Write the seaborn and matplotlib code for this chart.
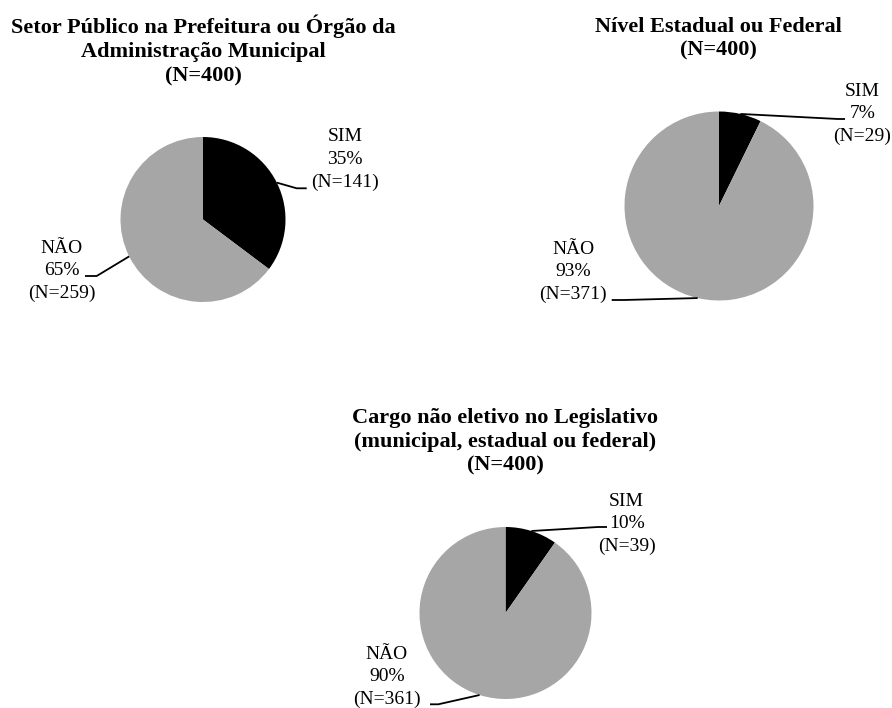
import matplotlib
matplotlib.use("Agg")
import numpy as np
import matplotlib.pyplot as plt
import seaborn as sns

# Survey results: worked in the public sector (N=400 per question)
titles = [
    "Setor Público na Prefeitura ou Órgão da\nAdministração Municipal\n(N=400)",
    "Nível Estadual ou Federal\n(N=400)",
    "Cargo não eletivo no Legislativo\n(municipal, estadual ou federal)\n(N=400)",
]
categories = ["SIM", "NÃO"]
sim_counts = [141, 29, 39]
nao_counts = [259, 371, 361]
total_n = 400

sns.set_theme(style="white")
plt.rcParams["font.family"] = ["Liberation Serif", "DejaVu Serif"]

colors = ["#000000", "#a6a6a6"]

W, H = 892, 708
fig = plt.figure(figsize=(W / 100, H / 100), dpi=100)
fig.patch.set_facecolor("white")

# pixel layout: pie centre x, centre y (from top), radius
pie_geom = [(203, 219.5, 82.5), (719, 206, 94.5), (505.5, 613, 86)]
title_pos = [(203, 50.5), (718, 38.5), (505, 441.5)]
# label block centres (SIM, NÃO)
label_pos = [((345, 159.5), (61.7, 271)),
             ((862.5, 114), (573.3, 272)),
             ((626.7, 524), (386.7, 677)) ]
# leader line elbow and end points (SIM, NÃO)
leaders = [(((296.7, 188.3), (306.7, 188.3)), ((96.7, 276), (85, 276))),
           (((838, 119), (845, 119)), ((624, 300), (611.7, 300))),
           (((598, 527), (607, 527)), ((438.3, 704.3), (430, 704.3)))]

label_fs = 14
title_fs = 16

for i in range(3):
    cx, cy, r = pie_geom[i]
    ax = fig.add_axes([(cx - r) / W, 1 - (cy + r) / H, 2 * r / W, 2 * r / H])
    values = [sim_counts[i], nao_counts[i]]
    wedges, _ = ax.pie(values, colors=colors, startangle=90, counterclock=False,
                       radius=1, wedgeprops=dict(linewidth=0))
    ax.set_xlim(-1, 1)
    ax.set_ylim(-1, 1)
    ax.set_aspect("equal")
    ax.axis("off")

    def to_data(p):
        return ((p[0] - cx) / r, (cy - p[1]) / r)

    for j, w in enumerate(wedges):
        mid = np.deg2rad((w.theta1 + w.theta2) / 2)
        start = (np.cos(mid), np.sin(mid))
        elbow = to_data(leaders[i][j][0])
        end = to_data(leaders[i][j][1])
        ax.plot([start[0], elbow[0], end[0]], [start[1], elbow[1], end[1]],
                color="black", lw=1.3, clip_on=False, solid_capstyle="butt")
        pct = round(100 * values[j] / total_n)
        tx, ty = to_data(label_pos[i][j])
        ax.text(tx, ty, f"{categories[j]}\n{pct}%\n(N={values[j]})",
                ha="center", va="center", multialignment="center",
                fontsize=label_fs, linespacing=1.42, color="black", clip_on=False)

    tx, ty = title_pos[i]
    fig.text(tx / W, 1 - ty / H, titles[i], ha="center", va="center",
             multialignment="center", fontsize=title_fs, fontweight="bold",
             linespacing=1.25, color="black")

fig.savefig("out.png", dpi=100, facecolor="white")
